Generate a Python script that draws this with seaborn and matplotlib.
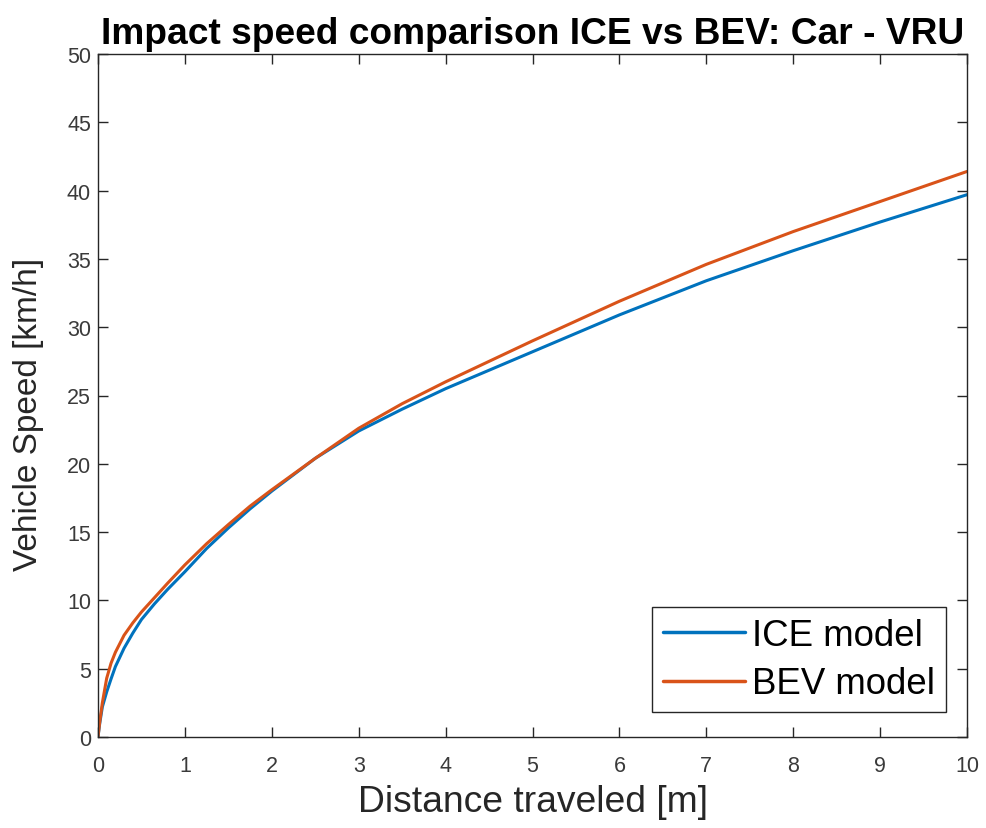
import matplotlib
matplotlib.use("Agg")
import matplotlib.pyplot as plt
import seaborn as sns
import pandas as pd

distance = [0, 0.02, 0.05, 0.1, 0.15, 0.2, 0.3, 0.4, 0.5, 0.65, 0.8, 1.0, 1.25, 1.5,
            1.75, 2.0, 2.5, 3.0, 3.5, 4.0, 5.0, 6.0, 7.0, 8.0, 9.0, 10.0]
ice_speed = [0, 1.0, 2.2, 3.3, 4.25, 5.15, 6.5, 7.6, 8.6, 9.75, 10.8, 12.1, 13.8, 15.3,
             16.7, 18.0, 20.4, 22.4, 24.0, 25.5, 28.2, 30.9, 33.4, 35.6, 37.7, 39.7]
bev_speed = [0, 1.1, 2.5, 4.3, 5.4, 6.2, 7.45, 8.35, 9.15, 10.2, 11.25, 12.6, 14.15, 15.55,
             16.9, 18.1, 20.4, 22.6, 24.4, 26.0, 29.0, 31.9, 34.6, 37.0, 39.2, 41.4]
series_names = ["ICE model", "BEV model"]
x_ticks = list(range(0, 11))
y_ticks = list(range(0, 51, 5))

df = pd.concat([
    pd.DataFrame({"Distance": distance, "Speed": ice_speed, "Model": series_names[0]}),
    pd.DataFrame({"Distance": distance, "Speed": bev_speed, "Model": series_names[1]}),
])

sns.set_theme(style="white")
plt.rcParams["font.family"] = ["Liberation Sans", "DejaVu Sans"]

fig = plt.figure(figsize=(9.86, 8.29), dpi=100)
ax = fig.add_axes([98/986, 1 - 738/829, (967 - 98)/986, (738 - 55)/829])

sns.lineplot(data=df, x="Distance", y="Speed", hue="Model", sort=False,
             palette=["#0072BD", "#D95319"], linewidth=2.2, ax=ax, estimator=None)

ax.set_xlim(0, 10)
ax.set_ylim(0, 50)
ax.set_xticks(x_ticks)
ax.set_yticks(y_ticks)
axcol = "#262626"
ax.tick_params(direction="in", length=7, width=1, color=axcol, labelcolor="#3a3a3a",
               labelsize=15.5, top=True, right=True, bottom=True, left=True)
ax.tick_params(axis="x", pad=13)
ax.tick_params(axis="y", pad=5)
for s in ax.spines.values():
    s.set_color(axcol)
    s.set_linewidth(1.0)

ax.set_xlabel("Distance traveled [m]", fontsize=26.8, color=axcol, labelpad=6)
ax.set_ylabel("Vehicle Speed [km/h]", fontsize=24, color=axcol)
ax.yaxis.set_label_coords(-0.062, 0.474)
ax.set_title("Impact speed comparison ICE vs BEV: Car - VRU", fontsize=26.7,
             fontweight="bold", color="black", pad=8)

leg = ax.legend(loc="lower right", fontsize=26.4, frameon=True, fancybox=False,
                handlelength=2.23, handletextpad=0.2, borderpad=0.3,
                labelspacing=0.36, borderaxespad=0, bbox_to_anchor=(0.976, 0.036))
leg.get_frame().set_edgecolor(axcol)
leg.get_frame().set_linewidth(1.0)
leg.get_frame().set_alpha(1)
for line in leg.get_lines():
    line.set_linewidth(2.5)
for t in leg.get_texts():
    t.set_color("black")

fig.savefig("out.png", dpi=100)
